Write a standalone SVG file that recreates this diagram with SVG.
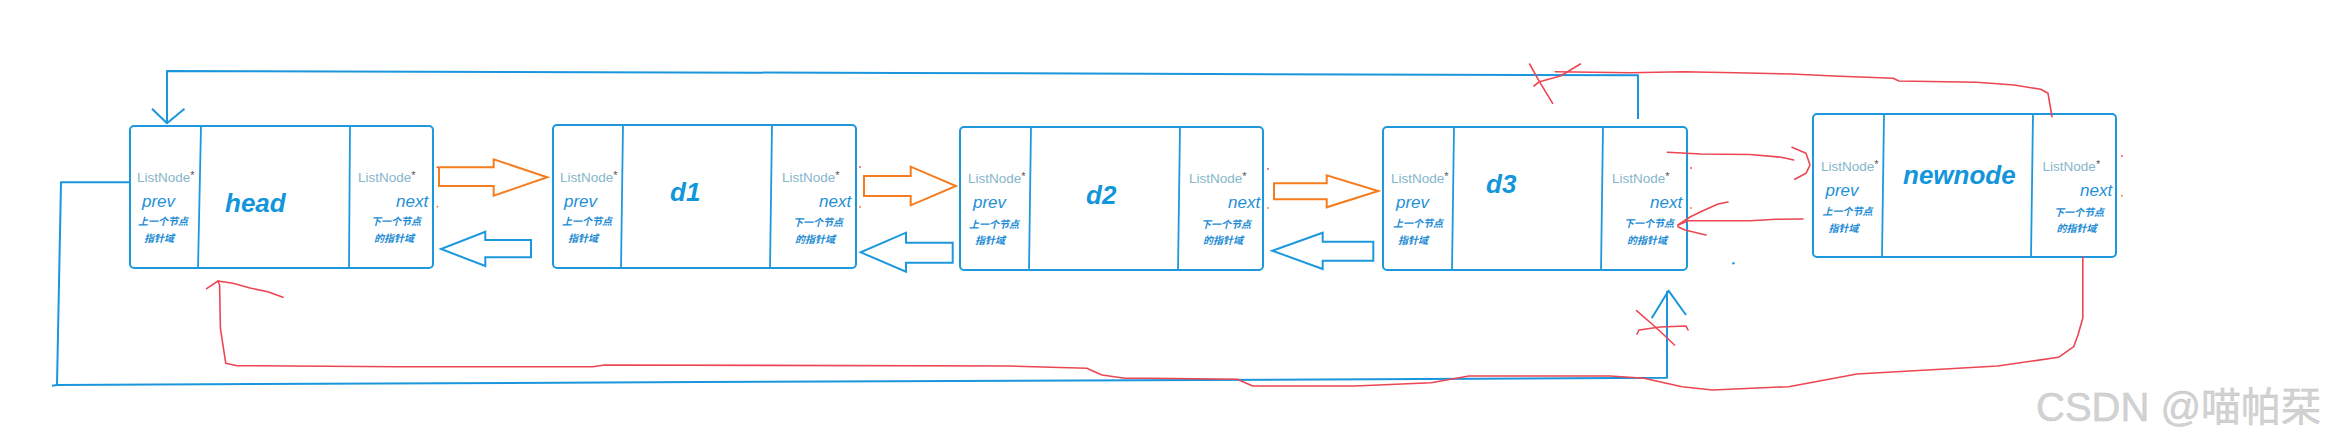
<svg xmlns="http://www.w3.org/2000/svg" width="2342" height="446" viewBox="0 0 2342 446">
<style>
.box{fill:none;stroke:#1e98dd;stroke-width:2}
.div{stroke:#1e98dd;stroke-width:1.8;fill:none}
.ln{font-family:"Liberation Sans",sans-serif;font-size:13.5px;fill:#86b6cb}
.ast{fill:#555;font-size:11px}
.pv{font-family:"Liberation Sans",sans-serif;font-style:italic;font-size:17px;fill:#1e90d8}
.cn{font-family:"Liberation Sans","Noto Sans CJK SC",sans-serif;font-weight:bold;font-style:italic;font-size:10px;fill:#1a8ad4}
.lbl{font-family:"Liberation Sans",sans-serif;font-weight:bold;font-style:italic;font-size:26px;fill:#1296db}
.bl{fill:none;stroke:#1a96dc;stroke-width:2;stroke-linejoin:round}
.or{fill:none;stroke:#f57c1f;stroke-width:2;stroke-linejoin:miter}
.ba{fill:none;stroke:#1e98dd;stroke-width:2;stroke-linejoin:miter}
.rd{fill:none;stroke:#ec4652;stroke-width:1.6;stroke-linejoin:round;stroke-linecap:round}
.wm{font-family:"Liberation Sans","Noto Sans CJK SC",sans-serif;font-size:40px;fill:#d2d2d2;stroke:#c4c4c4;stroke-width:0.4}
</style>

<g id="node-head">
<rect class="box" x="130" y="126" width="303" height="142" rx="4"/>
<path class="div" d="M201,126 L198,269 M350,126 L349,269"/>
<text class="ln" x="137" y="182">ListNode<tspan class="ast" dy="-3">*</tspan></text>
<text class="pv" x="142" y="207">prev</text>
<text class="cn" x="138" y="225">上一个节点</text>
<text class="cn" x="144" y="241.5">指针域</text>
<text class="lbl" x="225" y="212">head</text>
<text class="ln" x="358" y="182">ListNode<tspan class="ast" dy="-3">*</tspan></text>
<text class="pv" x="396" y="207">next</text>
<text class="cn" x="371" y="225">下一个节点</text>
<text class="cn" x="374" y="241.5">的指针域</text>
</g>

<g id="node-d1">
<rect class="box" x="553" y="125" width="303" height="143" rx="4"/>
<path class="div" d="M623,125 L621,269 M772,125 L770,269"/>
<text class="ln" x="560" y="181.7">ListNode<tspan class="ast" dy="-3">*</tspan></text>
<text class="pv" x="564" y="207">prev</text>
<text class="cn" x="562" y="225">上一个节点</text>
<text class="cn" x="568" y="241.5">指针域</text>
<text class="lbl" x="670" y="200.7">d1</text>
<text class="ln" x="782" y="181.7">ListNode<tspan class="ast" dy="-3">*</tspan></text>
<text class="pv" x="819" y="206.7">next</text>
<text class="cn" x="793" y="226">下一个节点</text>
<text class="cn" x="795" y="242.5">的指针域</text>
</g>

<g id="node-d2">
<rect class="box" x="960" y="127" width="303" height="143" rx="4"/>
<path class="div" d="M1031,127 L1029,271 M1180,127 L1178,271"/>
<text class="ln" x="968" y="183">ListNode<tspan class="ast" dy="-3">*</tspan></text>
<text class="pv" x="973" y="208">prev</text>
<text class="cn" x="969" y="227.5">上一个节点</text>
<text class="cn" x="975" y="244">指针域</text>
<text class="lbl" x="1086" y="204">d2</text>
<text class="ln" x="1189" y="183">ListNode<tspan class="ast" dy="-3">*</tspan></text>
<text class="pv" x="1228" y="208">next</text>
<text class="cn" x="1201" y="227.5">下一个节点</text>
<text class="cn" x="1203" y="244">的指针域</text>
</g>

<g id="node-d3">
<rect class="box" x="1383" y="127" width="304" height="143" rx="4"/>
<path class="div" d="M1454,127 L1452,271 M1603,127 L1601,271"/>
<text class="ln" x="1391" y="183.3">ListNode<tspan class="ast" dy="-3">*</tspan></text>
<text class="pv" x="1396" y="208.3">prev</text>
<text class="cn" x="1393" y="227">上一个节点</text>
<text class="cn" x="1398" y="244">指针域</text>
<text class="lbl" x="1486" y="192.7">d3</text>
<text class="ln" x="1612" y="183">ListNode<tspan class="ast" dy="-3">*</tspan></text>
<text class="pv" x="1650" y="208">next</text>
<text class="cn" x="1624" y="227">下一个节点</text>
<text class="cn" x="1627" y="244">的指针域</text>
</g>

<g id="node-newnode">
<rect class="box" x="1813" y="114" width="303" height="143" rx="4"/>
<path class="div" d="M1884,114 L1882,258 M2033,114 L2031,258"/>
<text class="ln" x="1821" y="170.7">ListNode<tspan class="ast" dy="-3">*</tspan></text>
<text class="pv" x="1825.5" y="195.7">prev</text>
<text class="cn" x="1822.5" y="215">上一个节点</text>
<text class="cn" x="1828.5" y="231.5">指针域</text>
<text class="lbl" x="1903" y="184.3">newnode</text>
<text class="ln" x="2042.6" y="170.7">ListNode<tspan class="ast" dy="-3">*</tspan></text>
<text class="pv" x="2080" y="195.7">next</text>
<text class="cn" x="2054" y="215.5">下一个节点</text>
<text class="cn" x="2056.5" y="232">的指针域</text>
</g>

<g id="connectors">
<!-- block arrows forward (orange) -->
<path class="or" d="M439,167.3 L493.7,167.3 L493.7,159.3 L547.3,177.3 L493.7,195.7 L493.7,186 L439,186 Z"/>
<path class="or" d="M864,176 L910.7,176 L910.7,166.7 L956,186 L910.7,205.3 L910.7,196 L864,196 Z"/>
<path class="or" d="M1274,183.3 L1326.7,183.3 L1326.7,175.3 L1378.3,191 L1326.7,207.3 L1326.7,199.3 L1274,199.3 Z"/>
<!-- block arrows backward (blue) -->
<path class="ba" d="M531,240 L485.3,240 L485.3,231.7 L441,249 L485.3,266 L485.3,257.3 L531,257.3 Z"/>
<path class="ba" d="M952.7,242.7 L906,242.7 L906,232.7 L860.7,252.3 L906,271.7 L906,262.7 L952.7,262.7 Z"/>
<path class="ba" d="M1373.3,241.7 L1322.7,241.7 L1322.7,232.7 L1272.3,250.7 L1322.7,269 L1322.7,260.7 L1373.3,260.7 Z"/>

<!-- old blue top link d3.next -> head -->
<polyline class="bl" points="1638,119 1638,75.3 900,73 167,71 167,123"/>
<polyline class="bl" points="152,108.7 167,123.3 184.5,108.7"/>
<!-- old blue bottom link head.prev -> d3 -->
<polyline class="bl" points="130,182.3 61,182.3 57,385 52,385.7"/>
<polyline class="bl" points="57,385 700,382 1200,380 1667,377.7 1667,291"/>
<polyline class="bl" points="1651.7,318.3 1668.5,290.7 1686,315"/>

<!-- red crosses -->
<polyline class="rd" points="1529.6,64 1539.4,81.7 1552.7,103.3"/>
<polyline class="rd" points="1580.4,64 1567.5,71.7 1560.4,76 1539.4,81.7 1534,86"/>
<polyline class="rd" points="1636.5,310.7 1652,324 1663,334 1674.5,345"/>
<polyline class="rd" points="1637,334 1639,330 1660,327 1686,326 1688,330"/>

<!-- red newnode.next -> head (top) -->
<polyline class="rd" points="1555.2,71.7 1630.6,72.7 1683,71.7 1735.8,72.7 1791.5,74 1834,76 1893,78.3 1899,81 1976.5,82.3 2014,85 2040.7,89.3 2048,93.3 2050,105 2052,116.7"/>
<!-- red d3.next -> newnode.prev -->
<polyline class="rd" points="1667.4,152.3 1700.8,154 1750,154.5 1781.4,157.3 1793.7,160"/>
<polyline class="rd" points="1792,147.3 1806,153.3 1810,165 1806,173.3 1794.8,179.3"/>
<!-- red newnode.prev -> d3.next -->
<polyline class="rd" points="1803,219 1776,219.3 1750,220.7 1688.5,220.7 1678,225"/>
<polyline class="rd" points="1678,225 1690,217 1700.8,211.7 1718,204 1728,202"/>
<polyline class="rd" points="1678,226.7 1685,230 1706,235"/>
<!-- red newnode.next -> head.prev (bottom) -->
<polyline class="rd" points="2082.8,256.7 2082.8,318 2078,335 2073.7,346.7 2058.5,357.3 1997.6,366 1857,374 1788.6,386.7 1712.6,390 1682,386.7 1644,378.3 1610,376 1469,376 1431,382.7 1355,386 1252.6,386 1237.4,379.3 1150,378.3 1125,378.3 1102,375 1086.7,368.3 1010,366 604.6,365 593,366.7 398,366.7 237,365.7 225.8,363.3 220.4,328.3 219.6,285 218,281"/>
<polyline class="rd" points="206.6,288.7 218,281 233,283.3 250,288 267.8,291.7 283,297.3"/>

<!-- small specks -->
<circle cx="1733.4" cy="263.3" r="1.2" fill="#1e98dd"/>
<circle cx="437.4" cy="167.3" r="0.9" fill="#ec4652"/>
<circle cx="437.4" cy="206.7" r="0.9" fill="#f57c1f"/>
<circle cx="860" cy="167" r="0.9" fill="#ec4652"/>
<circle cx="860" cy="207" r="0.9" fill="#f57c1f"/>
<circle cx="1268" cy="169" r="0.9" fill="#ec4652"/>
<circle cx="1268" cy="208" r="0.9" fill="#f57c1f"/>
<circle cx="1691" cy="168" r="0.9" fill="#ec4652"/>
<circle cx="1691" cy="208" r="0.9" fill="#f57c1f"/>
<circle cx="2122" cy="156" r="0.9" fill="#ec4652"/>
<circle cx="2122" cy="195.7" r="0.9" fill="#f57c1f"/>
</g>

<text class="wm" x="2036" y="421">CSDN @喵帕栞</text>
</svg>
